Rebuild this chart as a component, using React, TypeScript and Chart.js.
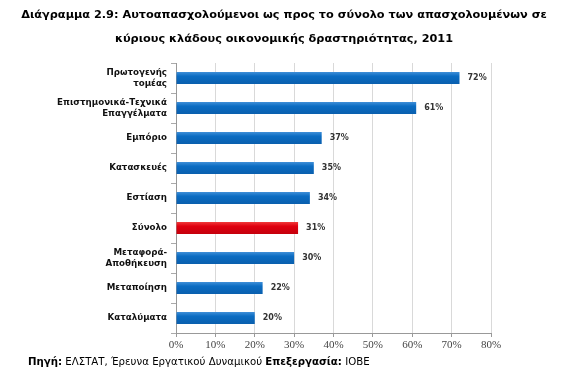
import React, { useEffect, useRef } from "react";
import { Chart, registerables } from "chart.js";
Chart.register(...registerables);

const categories: (string | string[])[] = [
  ["Πρωτογενής", "τομέας"],
  ["Επιστημονικά-Τεχνικά", "Επαγγέλματα"],
  "Εμπόριο",
  "Κατασκευές",
  "Εστίαση",
  "Σύνολο",
  ["Μεταφορά-", "Αποθήκευση"],
  "Μεταποίηση",
  "Καταλύματα",
];
const values = [72, 61, 37, 35, 34, 31, 30, 22, 20];
const highlightIndex = 5;
const xTickMax = 80;
const xTickStep = 10;

const titleLine1 = "Διάγραμμα 2.9: Αυτοαπασχολούμενοι ως προς το σύνολο των απασχολουμένων σε";
const titleLine2 = "κύριους κλάδους οικονομικής δραστηριότητας, 2011";

const blueStops = ["#3f8fd8", "#0b6cc2", "#0a5fae"];
const redStops = ["#f03a3a", "#e0000f", "#c4000c"];

function barFill(context: any) {
  const chart = context.chart;
  const yScale = chart.scales && chart.scales.y;
  const stops = context.dataIndex === highlightIndex ? redStops : blueStops;
  if (!yScale || yScale.getPixelForValue === undefined || context.dataIndex === undefined) return stops[1];
  const y = yScale.getPixelForValue(context.dataIndex);
  if (!isFinite(y)) return stops[1];
  const g = chart.ctx.createLinearGradient(0, y - 6, 0, y + 6);
  g.addColorStop(0, stops[0]);
  g.addColorStop(0.35, stops[1]);
  g.addColorStop(1, stops[2]);
  return g;
}

const valueLabels = {
  id: "valueLabels",
  afterDatasetsDraw(chart: any) {
    const ctx = chart.ctx;
    const meta = chart.getDatasetMeta(0);
    ctx.save();
    ctx.font = "bold 8px 'DejaVu Sans'";
    ctx.fillStyle = "#333";
    ctx.textBaseline = "middle";
    ctx.textAlign = "left";
    meta.data.forEach((bar: any, i: number) => {
      ctx.fillText(values[i] + "%", bar.x + 8, bar.y);
    });
    ctx.restore();
  },
};

export default function App() {
  const ref = useRef<HTMLCanvasElement>(null);
  useEffect(() => {
    document.body.style.margin = "0";
    const chart = new Chart(ref.current!, {
      type: "bar",
      data: {
        labels: categories,
        datasets: [
          {
            data: values,
            backgroundColor: barFill,
            borderWidth: 0,
            barPercentage: 0.5,
            categoryPercentage: 0.8,
          },
        ],
      },
      options: {
        indexAxis: "y",
        animation: false,
        responsive: false,
        layout: { padding: { left: 0, top: 63, right: 77, bottom: 0 } },
        plugins: { legend: { display: false }, tooltip: { enabled: false }, title: { display: false } },
        scales: {
          x: {
            min: 0,
            max: xTickMax,
            afterFit(scale: any) {
              scale.height = 44;
            },
            ticks: {
              stepSize: xTickStep,
              callback: (v: any) => v + "%",
              color: "#444",
              font: { family: "'Liberation Serif'", size: 11 },
              padding: 2,
            },
            grid: { color: "#d9d9d9", tickLength: 4, tickColor: "#999" },
            border: { color: "#999" },
          },
          y: {
            afterFit(scale: any) {
              scale.width = 176;
            },
            ticks: {
              color: "#111",
              font: { family: "'DejaVu Sans'", size: 8.7, weight: "bold", lineHeight: 1.3 },
              padding: 4,
            },
            grid: { drawOnChartArea: false, tickLength: 5, tickColor: "#aaa", offset: true },
            border: { color: "#999" },
          },
        },
      },
      plugins: [valueLabels],
    });
    return () => chart.destroy();
  }, []);

  return (
    <div style={{ position: "absolute", left: 0, top: 0, width: 568, height: 377, background: "#fff" }}>
      <canvas ref={ref} width={568} height={377} style={{ position: "absolute", left: 0, top: 0 }} />
      <div
        style={{
          position: "absolute",
          left: 0,
          top: 3,
          width: 568,
          textAlign: "center",
          fontFamily: "'DejaVu Sans'",
          fontWeight: "bold",
          fontSize: 11.3,
          lineHeight: "24px",
          color: "#000",
        }}
      >
        <div>{titleLine1}</div>
        <div>{titleLine2}</div>
      </div>
      <div
        style={{
          position: "absolute",
          left: 28,
          top: 356,
          fontFamily: "'DejaVu Sans'",
          fontSize: 10.2,
          color: "#000",
          whiteSpace: "nowrap",
        }}
      >
        <b>Πηγή:</b> ΕΛΣΤΑΤ, Έρευνα Εργατικού Δυναμικού <b>Επεξεργασία:</b> ΙΟΒΕ
      </div>
    </div>
  );
}
